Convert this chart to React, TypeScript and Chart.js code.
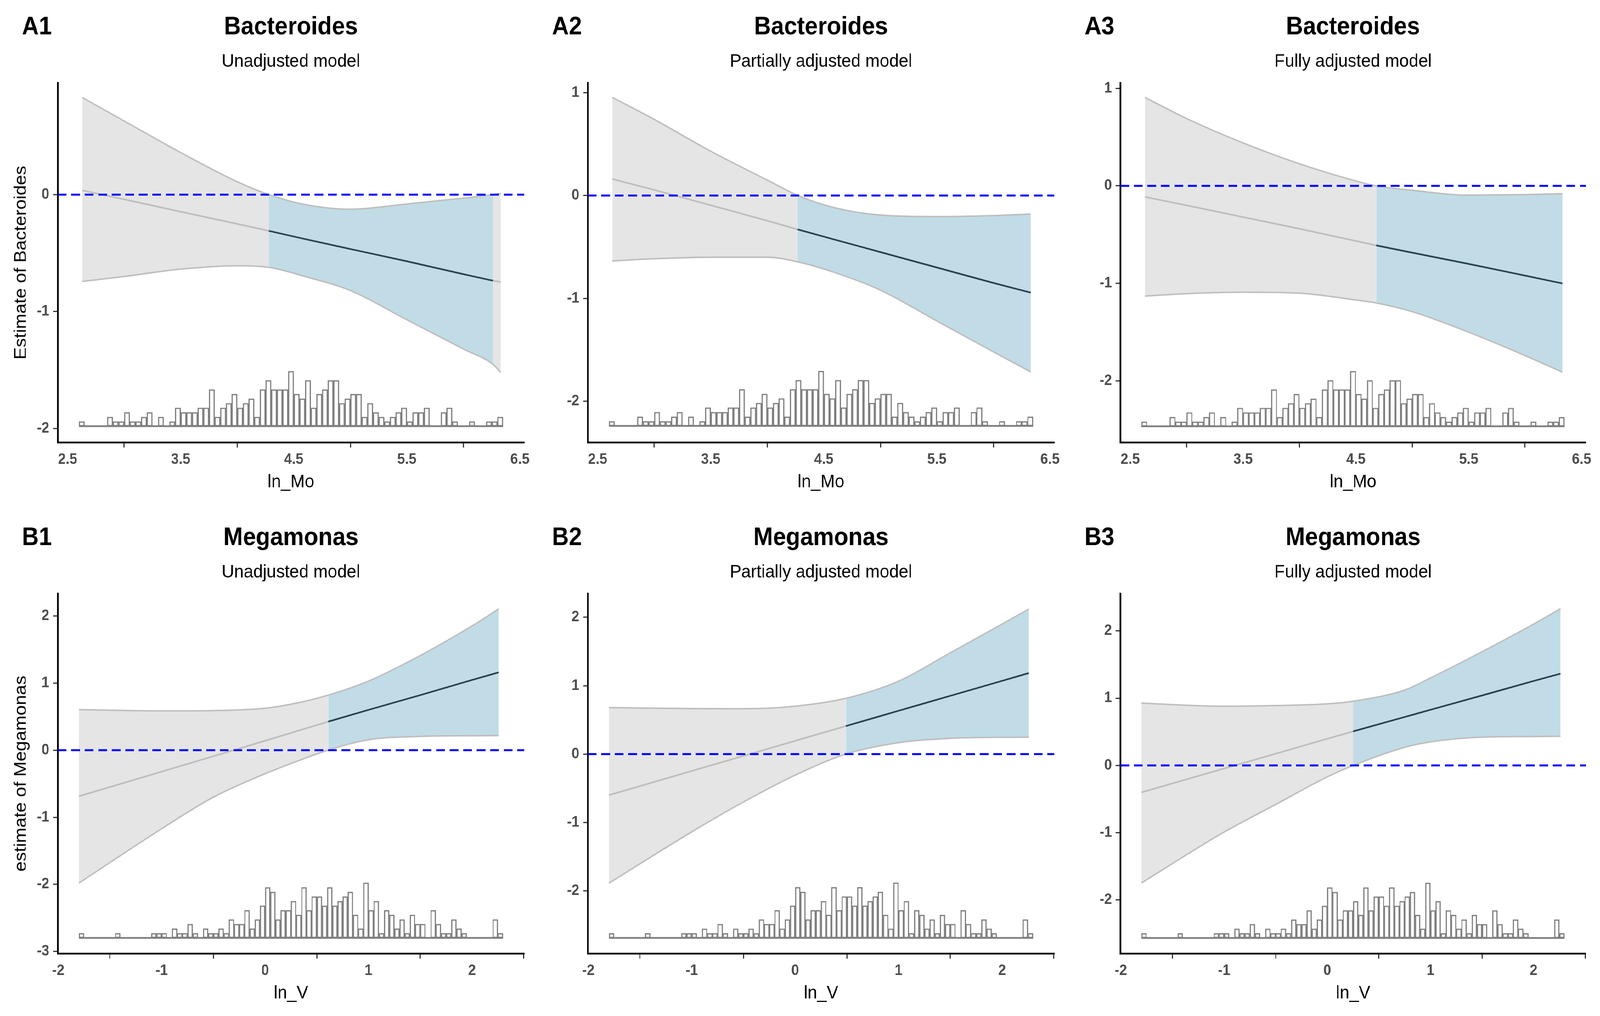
import React, { useEffect, useRef } from "react";
import { Chart, registerables } from "chart.js";

Chart.register(...registerables);

const FONT = "'Liberation Sans', Arial, Helvetica, sans-serif";
Chart.defaults.font.family = FONT;

// ---------------- data ----------------
// histogram of ln_Mo (row A)
const moBinStart = 2.6;
const moBinWidth = 0.05;
const moCounts = [
  1, 0, 0, 0, 0, 2, 1, 1, 3, 1,
  1, 2, 3, 0, 2, 0, 1, 4, 3, 3,
  3, 4, 4, 8, 2, 4, 5, 7, 4, 5,
  6, 2, 8, 10, 8, 8, 8, 12, 7, 6,
  10, 4, 7, 8, 10, 10, 5, 6, 7, 7,
  2, 5, 3, 2, 1, 2, 3, 4, 1, 3,
  3, 4, 0, 0, 3, 4, 1, 0, 0, 1,
  0, 0, 1, 1, 2,
];
// histogram of ln_V (row B)
const vBinStart = -1.8;
const vBinWidth = 0.05;
const vCounts = [
  1, 0, 0, 0, 0, 0, 0, 1, 0, 0,
  0, 0, 0, 0, 1, 1, 1, 0, 2, 1,
  1, 3, 1, 0, 2, 1, 1, 2, 1, 4,
  3, 3, 6, 2, 4, 7, 11, 10, 4, 6,
  6, 8, 5, 11, 6, 9, 9, 7, 11, 7,
  8, 9, 10, 5, 2, 12, 6, 8, 1, 6,
  5, 2, 4, 1, 5, 3, 3, 0, 6, 3,
  1, 1, 4, 2, 1, 0, 0, 0, 0, 0,
  4, 1,
];

const moTicks = [2.5, 3.5, 4.5, 5.5, 6.5];
const vTicks = [-2, -1, 0, 1, 2];
const yTickValues = [-3, -2, -1, 0, 1, 2];

const moRange = [2.4125, 6.5375];
const vRange = [-2.005, 2.505];

// A1 Bacteroides, unadjusted
const a1X = [2.63, 3.0, 3.5, 4.0, 4.28, 4.6, 5.0, 5.5, 6.0, 6.26, 6.33];
const a1Hi = [0.83, 0.63, 0.36, 0.11, 0.0, -0.085, -0.125, -0.08, -0.03, 0.0, 0.01];
const a1Lo = [-0.742, -0.7, -0.637, -0.608, -0.622, -0.7, -0.82, -1.07, -1.32, -1.45, -1.52];
const a1Est = [0.036, -0.04, -0.146, -0.25, -0.31, -0.38, -0.465, -0.57, -0.68, -0.735, -0.748];
const a1Sig = [4.28, 6.26];
const a1Y = [-2.119, 0.956];
const a1Hist = [-1.98, -1.51];

// A2 Bacteroides, partially adjusted
const a2X = [2.63, 3.0, 3.5, 4.0, 4.27, 4.6, 5.0, 5.5, 6.0, 6.33];
const a2Hi = [0.954, 0.74, 0.43, 0.15, 0.0, -0.12, -0.19, -0.205, -0.195, -0.18];
const a2Lo = [-0.636, -0.615, -0.6, -0.6, -0.645, -0.75, -0.92, -1.22, -1.52, -1.715];
const a2Est = [0.16, 0.055, -0.095, -0.245, -0.33, -0.43, -0.55, -0.7, -0.85, -0.944];
const a2Sig = [4.27, 6.33];
const a2Y = [-2.4, 1.095];
const a2Hist = [-2.24, -1.706];

// A3 Bacteroides, fully adjusted
const a3X = [2.63, 3.0, 3.5, 4.0, 4.5, 4.68, 5.0, 5.5, 6.0, 6.33];
const a3Hi = [0.907, 0.69, 0.44, 0.226, 0.05, 0.0, -0.045, -0.095, -0.09, -0.08];
const a3Lo = [-1.13, -1.105, -1.09, -1.1, -1.17, -1.2, -1.29, -1.5, -1.74, -1.91];
const a3Est = [-0.113, -0.2, -0.32, -0.44, -0.565, -0.61, -0.685, -0.8, -0.92, -1.0];
const a3Sig = [4.68, 6.33];
const a3Y = [-2.63, 1.056];
const a3Hist = [-2.465, -1.9];

// B1 Megamonas, unadjusted
const b1X = [-1.8, -1.0, -0.5, 0.0, 0.3, 0.61, 1.0, 1.5, 2.0, 2.26];
const b1Hi = [0.604, 0.585, 0.59, 0.625, 0.7, 0.82, 1.03, 1.41, 1.85, 2.106];
const b1Lo = [-1.98, -1.17, -0.7, -0.35, -0.17, 0.0, 0.155, 0.205, 0.215, 0.217];
const b1Est = [-0.686, -0.32, -0.09, 0.14, 0.28, 0.425, 0.6, 0.82, 1.045, 1.16];
const b1Sig = [0.61, 2.26];
const b1Y = [-3.03, 2.333];
const b1Hist = [-2.797, -1.976];

// B2 Megamonas, partially adjusted
const b2X = [-1.8, -1.0, -0.5, 0.0, 0.49, 1.0, 1.5, 2.0, 2.26];
const b2Hi = [0.68, 0.665, 0.663, 0.7, 0.815, 1.066, 1.48, 1.9, 2.12];
const b2Lo = [-1.886, -1.137, -0.7, -0.308, 0.0, 0.166, 0.23, 0.245, 0.246];
const b2Est = [-0.6, -0.247, -0.027, 0.194, 0.41, 0.633, 0.852, 1.07, 1.185];
const b2Sig = [0.49, 2.26];
const b2Y = [-2.915, 2.346];
const b2Hist = [-2.687, -1.88];

// B3 Megamonas, fully adjusted
const b3X = [-1.8, -1.0, -0.5, 0.0, 0.25, 0.75, 1.0, 1.5, 2.0, 2.26];
const b3Hi = [0.925, 0.88, 0.89, 0.915, 0.954, 1.12, 1.3, 1.69, 2.1, 2.33];
const b3Lo = [-1.745, -0.99, -0.58, -0.17, 0.0, 0.27, 0.35, 0.42, 0.43, 0.434];
const b3Est = [-0.4, -0.046, 0.175, 0.396, 0.506, 0.72, 0.827, 1.04, 1.255, 1.364];
const b3Sig = [0.25, 2.26];
const b3Y = [-2.795, 2.554];
const b3Hist = [-2.564, -1.745];

// ---------------- layout (pixels, in a 4380 x 2602 design space) ----------------
const DESIGN_W = 4380;
const DESIGN_H = 2602;
const COL_X = [
  [158, 1435],
  [1609, 2886],
  [3067, 4341],
];
const ROW_Y = [
  [212, 1133],
  [1520, 2442],
];
const Y_AXIS_W = 150;
const PAD_R = 45;
const TOP_H = 212;
const BOT_H = 150;
const TITLE_MID = 70;

// ---------------- colours ----------------
const GRAY_FILL = "#E5E5E5";
const BLUE_FILL = "#C1DCE6";
const CI_LINE = "#BEBEBE";
const SIG_LINE = "#2C414C";
const HIST_LINE = "#7F7F7F";

type PanelCfg = {
  tag: string;
  title: string;
  subtitle: string;
  xTitle: string;
  yTitle?: string;
  xs: number[];
  hi: number[];
  lo: number[];
  est: number[];
  sig: number[];
  yRange: number[];
  hist: number[];
  xRange: number[];
  xTicks: number[];
  binStart: number;
  binWidth: number;
  counts: number[];
  col: number;
  row: number;
};

const panels: PanelCfg[] = [
  { tag: "A1", title: "Bacteroides", subtitle: "Unadjusted model", xTitle: "ln_Mo", yTitle: "Estimate of Bacteroides",
    xs: a1X, hi: a1Hi, lo: a1Lo, est: a1Est, sig: a1Sig, yRange: a1Y, hist: a1Hist, xRange: moRange, xTicks: moTicks,
    binStart: moBinStart, binWidth: moBinWidth, counts: moCounts, col: 0, row: 0 },
  { tag: "A2", title: "Bacteroides", subtitle: "Partially adjusted model", xTitle: "ln_Mo",
    xs: a2X, hi: a2Hi, lo: a2Lo, est: a2Est, sig: a2Sig, yRange: a2Y, hist: a2Hist, xRange: moRange, xTicks: moTicks,
    binStart: moBinStart, binWidth: moBinWidth, counts: moCounts, col: 1, row: 0 },
  { tag: "A3", title: "Bacteroides", subtitle: "Fully adjusted model", xTitle: "ln_Mo",
    xs: a3X, hi: a3Hi, lo: a3Lo, est: a3Est, sig: a3Sig, yRange: a3Y, hist: a3Hist, xRange: moRange, xTicks: moTicks,
    binStart: moBinStart, binWidth: moBinWidth, counts: moCounts, col: 2, row: 0 },
  { tag: "B1", title: "Megamonas", subtitle: "Unadjusted model", xTitle: "ln_V", yTitle: "estimate of Megamonas",
    xs: b1X, hi: b1Hi, lo: b1Lo, est: b1Est, sig: b1Sig, yRange: b1Y, hist: b1Hist, xRange: vRange, xTicks: vTicks,
    binStart: vBinStart, binWidth: vBinWidth, counts: vCounts, col: 0, row: 1 },
  { tag: "B2", title: "Megamonas", subtitle: "Partially adjusted model", xTitle: "ln_V",
    xs: b2X, hi: b2Hi, lo: b2Lo, est: b2Est, sig: b2Sig, yRange: b2Y, hist: b2Hist, xRange: vRange, xTicks: vTicks,
    binStart: vBinStart, binWidth: vBinWidth, counts: vCounts, col: 1, row: 1 },
  { tag: "B3", title: "Megamonas", subtitle: "Fully adjusted model", xTitle: "ln_V",
    xs: b3X, hi: b3Hi, lo: b3Lo, est: b3Est, sig: b3Sig, yRange: b3Y, hist: b3Hist, xRange: vRange, xTicks: vTicks,
    binStart: vBinStart, binWidth: vBinWidth, counts: vCounts, col: 2, row: 1 },
];

const tagPlugin = {
  id: "panelTag",
  afterDraw(chart: any, _args: any, opts: any) {
    const { ctx, chartArea } = chart;
    ctx.save();
    ctx.font = `bold 64px ${FONT}`;
    ctx.fillStyle = "#000000";
    ctx.textAlign = "left";
    ctx.textBaseline = "middle";
    ctx.fillText(opts.text, chartArea.left - 98, TITLE_MID);
    ctx.restore();
  },
};

const pts = (xs: number[], ys: number[]) => xs.map((x, i) => ({ x, y: ys[i] }));

function Panel({ p }: { p: PanelCfg }) {
  const ref = useRef<HTMLCanvasElement>(null);
  const [left, right] = COL_X[p.col];
  const [top, bottom] = ROW_Y[p.row];
  const W = right - left + Y_AXIS_W + PAD_R;
  const H = TOP_H + (bottom - top) + BOT_H;

  useEffect(() => {
    if (!ref.current) return;
    const inSig = (c: any) => {
      const a = p.xs[c.p0DataIndex];
      const b = p.xs[c.p1DataIndex];
      return a >= p.sig[0] - 1e-9 && b <= p.sig[1] + 1e-9;
    };
    const maxCount = Math.max(...p.counts);
    const [hBase, hTop] = p.hist;
    const unit = (hTop - hBase) / maxCount;
    const histEnd = p.binStart + p.counts.length * p.binWidth;
    const inRange = (v: number, r: number[]) => v >= r[0] - 1e-9 && v <= r[1] + 1e-9;

    const datasets: any[] = [
      {
        type: "line",
        data: [{ x: p.xRange[0], y: 0 }, { x: p.xRange[1], y: 0 }],
        borderColor: "#0000FF",
        borderWidth: 5,
        borderDash: [24, 13],
        pointRadius: 0,
        fill: false,
        order: 0,
      },
      {
        type: "line",
        data: pts(p.xs, p.est),
        borderColor: CI_LINE,
        borderWidth: 4.2,
        pointRadius: 0,
        cubicInterpolationMode: "monotone",
        fill: false,
        segment: { borderColor: (c: any) => (inSig(c) ? SIG_LINE : undefined) },
        order: 1,
      },
      {
        type: "line",
        data: pts(p.xs, p.lo),
        borderColor: CI_LINE,
        borderWidth: 3.8,
        pointRadius: 0,
        cubicInterpolationMode: "monotone",
        fill: false,
        order: 2,
      },
      {
        type: "line",
        data: pts(p.xs, p.hi),
        borderColor: CI_LINE,
        borderWidth: 3.8,
        pointRadius: 0,
        cubicInterpolationMode: "monotone",
        fill: 2,
        backgroundColor: GRAY_FILL,
        segment: { backgroundColor: (c: any) => (inSig(c) ? BLUE_FILL : undefined) },
        order: 3,
      },
      {
        type: "bar",
        data: p.counts.map((c, i) => ({
          x: p.binStart + (i + 0.5) * p.binWidth,
          y: [hBase, hBase + c * unit],
        })),
        backgroundColor: "#FFFFFF",
        borderColor: HIST_LINE,
        borderWidth: 3.2,
        borderSkipped: false,
        barPercentage: 1,
        categoryPercentage: 1,
        order: 4,
      },
      {
        type: "line",
        data: [{ x: p.binStart, y: hBase }, { x: histEnd, y: hBase }],
        borderColor: HIST_LINE,
        borderWidth: 4.5,
        pointRadius: 0,
        fill: false,
        order: 5,
      },
    ];

    const tickFont = { family: FONT, size: 38, weight: "bold" as const };
    const gridOpts = {
      display: true,
      drawOnChartArea: false,
      drawTicks: true,
      tickLength: 13,
      tickColor: "#333333",
      tickWidth: 3,
    };

    const chart = new Chart(ref.current, {
      type: "line",
      data: { datasets },
      options: {
        responsive: false,
        animation: false,
        devicePixelRatio: 1,
        events: [],
        layout: { padding: { left: 0, right: PAD_R, top: 0, bottom: 0 } },
        elements: { line: { borderCapStyle: "butt" } },
        plugins: {
          legend: { display: false },
          tooltip: { enabled: false },
          title: {
            display: true,
            text: p.title,
            fullSize: false,
            color: "#000000",
            font: { family: FONT, size: 64, weight: "bold", lineHeight: 1.2 },
            padding: { top: TITLE_MID - 38.4, bottom: 0 },
          },
          subtitle: {
            display: true,
            text: p.subtitle,
            fullSize: false,
            color: "#000000",
            font: { family: FONT, size: 47, weight: "normal", lineHeight: 1.2 },
            padding: { top: 21.4, bottom: 26 },
          },
          panelTag: { text: p.tag },
        } as any,
        scales: {
          x: {
            type: "linear",
            min: p.xRange[0],
            max: p.xRange[1],
            offset: false,
            afterBuildTicks: (s: any) => {
              s.ticks = p.xTicks.filter((v) => inRange(v, p.xRange)).map((v) => ({ value: v }));
            },
            afterFit: (s: any) => {
              s.height = BOT_H;
            },
            border: { display: true, color: "#000000", width: 4.5 },
            grid: gridOpts,
            ticks: {
              autoSkip: false,
              maxRotation: 0,
              padding: 9,
              color: "#4D4D4D",
              font: tickFont,
              callback: (v: any) => String(v),
            },
            title: {
              display: true,
              text: p.xTitle,
              color: "#000000",
              font: { family: FONT, size: 47, weight: "normal", lineHeight: 1.2 },
              padding: { top: 0, bottom: 19.8 },
            },
          },
          y: {
            type: "linear",
            min: p.yRange[0],
            max: p.yRange[1],
            afterBuildTicks: (s: any) => {
              s.ticks = yTickValues.filter((v) => inRange(v, p.yRange)).map((v) => ({ value: v }));
            },
            afterFit: (s: any) => {
              s.width = Y_AXIS_W;
            },
            border: { display: true, color: "#000000", width: 4.5 },
            grid: gridOpts,
            ticks: {
              autoSkip: false,
              padding: 10,
              color: "#4D4D4D",
              font: tickFont,
              callback: (v: any) => String(v),
            },
            title: {
              display: !!p.yTitle,
              text: p.yTitle || "",
              color: "#000000",
              font: { family: FONT, size: 47, weight: "normal", lineHeight: 1.2 },
              padding: { top: 21.8, bottom: 0 },
            },
          },
        },
      } as any,
      plugins: [tagPlugin as any],
    });
    return () => chart.destroy();
  }, []);

  return (
    <canvas
      ref={ref}
      width={W}
      height={H}
      style={{
        position: "absolute",
        left: left - Y_AXIS_W,
        top: top - TOP_H,
        width: W,
        height: H,
      }}
    />
  );
}

export default function App() {
  const vw = typeof window !== "undefined" ? window.innerWidth : DESIGN_W;
  const vh = typeof window !== "undefined" ? window.innerHeight : DESIGN_H;
  const sx = vw / DESIGN_W || 1;
  const sy = vh / DESIGN_H || 1;
  return (
    <div
      style={{
        position: "fixed",
        left: 0,
        top: 0,
        right: 0,
        bottom: 0,
        overflow: "hidden",
        background: "#FFFFFF",
      }}
    >
      <div
        style={{
          position: "absolute",
          left: 0,
          top: 0,
          width: DESIGN_W,
          height: DESIGN_H,
          transform: `scale(${sx}, ${sy})`,
          transformOrigin: "0 0",
          background: "#FFFFFF",
        }}
      >
        {panels.map((p) => (
          <Panel key={p.tag} p={p} />
        ))}
      </div>
    </div>
  );
}
